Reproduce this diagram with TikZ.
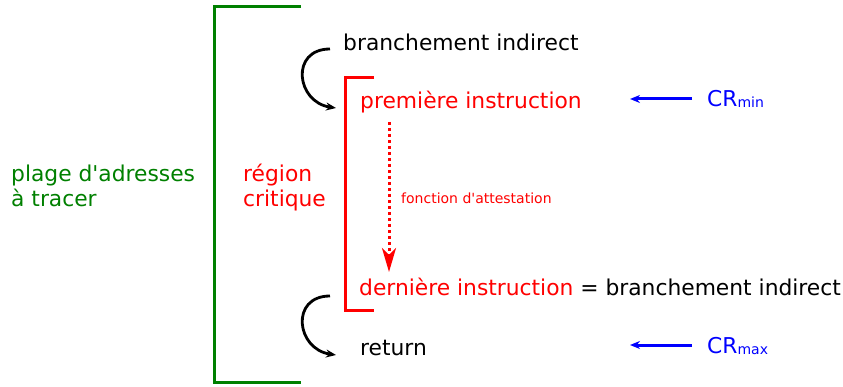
\documentclass[tikz,border=0pt]{standalone}
\usepackage{fontspec}
\setmainfont{DejaVu Sans}
\usepackage{tikz}
\usetikzlibrary{positioning,arrows.meta,calc}

\definecolor{rangegreen}{rgb}{0,0.5,0}

\begin{document}
\begin{tikzpicture}[x=1pt, y=-1pt,
  txt/.style={anchor=base west, inner sep=0pt, font=\fontsize{21.8}{25}\selectfont},
  smalltxt/.style={anchor=base west, inner sep=0pt, font=\fontsize{14}{16}\selectfont},
  loop/.style={line width=2.8pt, -{Stealth[length=10pt,width=8pt]}},
  crarrow/.style={blue, line width=3pt, -{Stealth[length=10pt,width=8pt]}}]

\useasboundingbox (0,0) rectangle (843,387);

\draw[rangegreen, line width=3pt] (301,7) -| (214,382) -- (301,382);
\draw[red, line width=3pt] (374,78) -| (345,310) -- (374,310);

\node[txt, rangegreen, align=left] (range) at (11,207) {plage d\textquotesingle adresses\\à tracer};
\node[txt, red, align=left] (crit) at (243,207) {région\\critique};

\node[txt] (branch) at (343,51) {branchement indirect};
\node[txt, red] (first) at (360,109) {première instruction};
\node[txt] (last) at (359,295) {\textcolor{red}{dernière instruction} = branchement indirect};
\node[txt] (ret) at (360,355) {return};
\node[smalltxt, red] (attest) at (401,204) {fonction d\textquotesingle attestation};

\node[txt, blue] (crmin) at (707,107) {CR\raisebox{-1pt}{\fontsize{14}{16}\selectfont min}};
\node[txt, blue] (crmax) at (707,353) {CR\raisebox{-1pt}{\fontsize{14}{16}\selectfont max}};

\draw[loop] ($(branch.base west)+(-13,-2)$) .. controls +(-40,0) and +(-40,-6) .. ($(first.base west)+(-24,-1)$);
\draw[loop] ($(last.base west)+(-29,1)$) .. controls +(-40,0) and +(-40,-6) .. ($(ret.base west)+(-24,0)$);

\draw[red, line width=3pt, dash pattern=on 3pt off 3pt, -{Stealth[length=24pt,width=14pt,inset=7pt]}]
  ($(first.base -| attest.west)+(-12,13)$) -- ($(last.base -| attest.west)+(-12,-23)$);

\coordinate (minend) at (630,99);
\coordinate (maxend) at (630,345);
\draw[crarrow] ($(crmin.base west)+(-15,-8)$) -- (minend);
\draw[crarrow] ($(crmax.base west)+(-15,-8)$) -- (maxend);

\end{tikzpicture}
\end{document}
